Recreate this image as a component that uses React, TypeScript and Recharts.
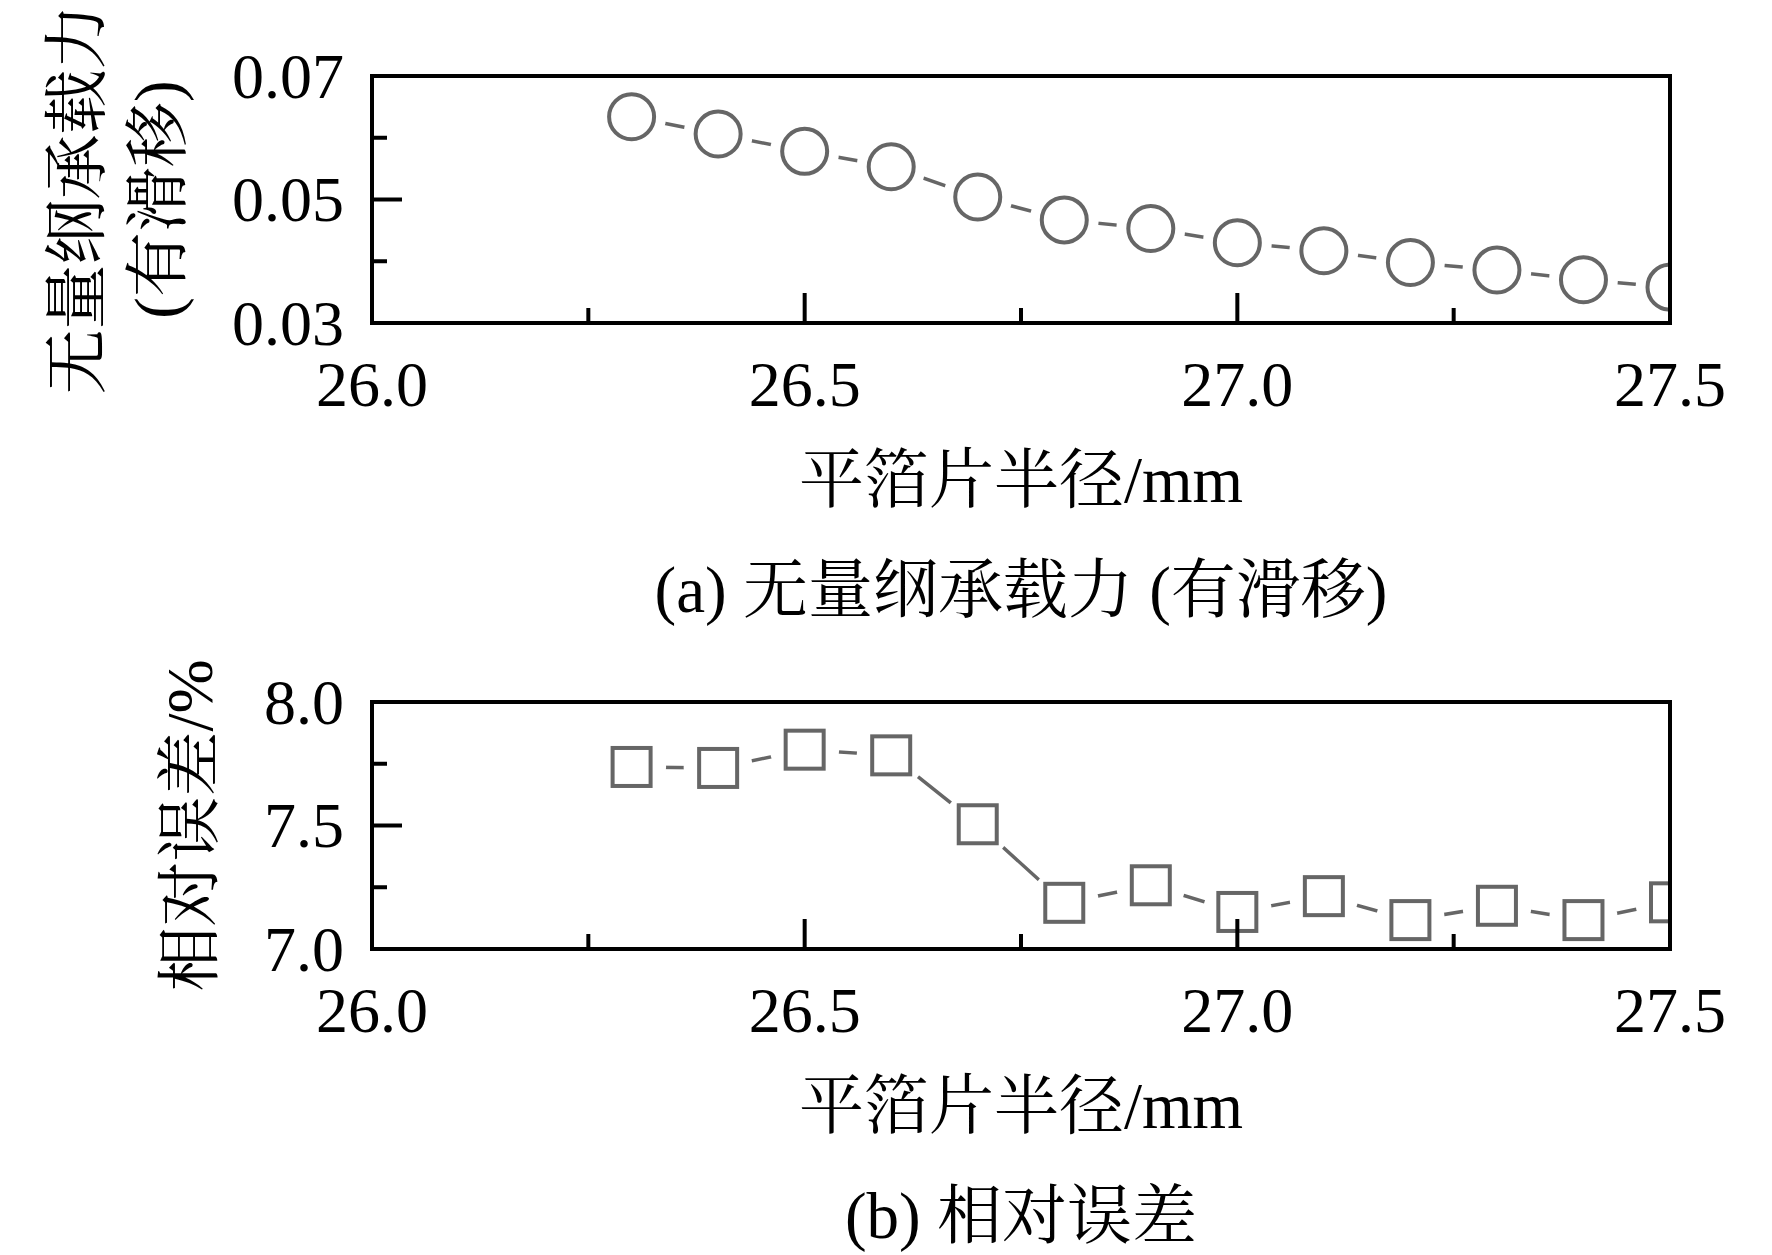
import React from 'react';
import { ComposedChart, Line, Scatter, XAxis, YAxis } from 'recharts';

// ---------- data ----------
const RADIUS = [26.3, 26.4, 26.5, 26.6, 26.7, 26.8, 26.9, 27.0, 27.1, 27.2, 27.3, 27.4, 27.5];
const LOAD = [0.0634, 0.0606, 0.0578, 0.0553, 0.0504, 0.0467, 0.0453, 0.043, 0.0417, 0.0398, 0.0386, 0.037, 0.0358];
const ERROR = [7.737, 7.733, 7.807, 7.784, 7.505, 7.187, 7.258, 7.15, 7.214, 7.117, 7.175, 7.117, 7.189];

const X_DOMAIN: [number, number] = [26.0, 27.5];
const X_TICKS = [26.0, 26.25, 26.5, 26.75, 27.0, 27.25, 27.5];
const X_LABELS = [26.0, 26.5, 27.0, 27.5];

const LOAD_DOMAIN: [number, number] = [0.03, 0.07];
const LOAD_TICKS = [0.03, 0.04, 0.05, 0.06, 0.07];
const LOAD_LABELS = [0.03, 0.05, 0.07];

const ERROR_DOMAIN: [number, number] = [7.0, 8.0];
const ERROR_TICKS = [7.0, 7.25, 7.5, 7.75, 8.0];
const ERROR_LABELS = [7.0, 7.5, 8.0];

const X_TITLE = '平箔片半径/mm';
const CAPTION_A = '(a) 无量纲承载力 (有滑移)';
const CAPTION_B = '(b) 相对误差';
const Y_TITLE_A = ['无量纲承载力', '(有滑移)'];
const Y_TITLE_B = ['相对误差/%'];

// ---------- style ----------
const FONT = "'Liberation Serif', 'Times New Roman', 'Noto Serif CJK SC', 'Noto Sans CJK SC', serif";
const GRAY = '#666666';
const W = 1772;
const H = 628;
const PLOT_LEFT = 372;
const PLOT_RIGHT = 1670;
const PLOT_TOP = 76;
const PLOT_BOTTOM = 323;
const PLOT_CX = (PLOT_LEFT + PLOT_RIGHT) / 2;
const MAJOR = 30;
const MINOR = 15;
const HALO_R = 34.5;
const TICK_FS = 64;
const TITLE_FS = 65;

const near = (a: number, b: number) => Math.abs(a - b) < 1e-9;
const frameLine = { stroke: '#000', strokeWidth: 4, strokeLinecap: 'square' as const };

const XTick = (props: any) => {
  const { x, y, payload } = props;
  const v = payload.value as number;
  const isLabel = X_LABELS.some((l) => near(l, v));
  const isEdge = near(v, X_DOMAIN[0]) || near(v, X_DOMAIN[1]);
  return (
    <g>
      {!isEdge && (
        <line x1={x} x2={x} y1={y} y2={y - (isLabel ? MAJOR : MINOR)} stroke="#000" strokeWidth={4} />
      )}
      {isLabel && (
        <text x={x} y={y + 61} textAnchor="middle" dominantBaseline="central" fontSize={TICK_FS} fontFamily={FONT} fill="#000">
          {v.toFixed(1)}
        </text>
      )}
    </g>
  );
};

const makeYTick = (labels: number[], domain: [number, number], digits: number) => (props: any) => {
  const { x, y, payload } = props;
  const v = payload.value as number;
  const isLabel = labels.some((l) => near(l, v));
  const isEdge = near(v, domain[0]) || near(v, domain[1]);
  return (
    <g>
      {!isEdge && (
        <line x1={x} x2={x + (isLabel ? MAJOR : MINOR)} y1={y} y2={y} stroke="#000" strokeWidth={4} />
      )}
      {isLabel && (
        <text x={x - 28} y={y} textAnchor="end" dominantBaseline="central" fontSize={TICK_FS} fontFamily={FONT} fill="#000">
          {v.toFixed(digits)}
        </text>
      )}
    </g>
  );
};

// white "gap to symbol" halo, kept inside the frame so it never hides the frame lines
const makeHalo = (id: string) => (props: any) => {
  const { cx, cy, index } = props;
  const clipId = `${id}-halo-clip`;
  if (cx == null || cy == null) return <g key={`h${index}`} />;
  return (
    <g key={`h${index}`}>
      {index === 0 && (
        <defs>
          <clipPath id={clipId}>
            <rect x={PLOT_LEFT + 2} y={PLOT_TOP + 2} width={PLOT_RIGHT - PLOT_LEFT - 4} height={PLOT_BOTTOM - PLOT_TOP - 4} />
          </clipPath>
        </defs>
      )}
      <circle cx={cx} cy={cy} r={HALO_R} fill="#ffffff" stroke="none" clipPath={`url(#${clipId})`} />
    </g>
  );
};

const makeMarker = (kind: 'circle' | 'square', id: string) => (props: any) => {
  const { cx, cy, payload } = props;
  if (cx == null || cy == null) return <g />;
  const last = payload && near(payload.r, X_DOMAIN[1]);
  const clipId = `${id}-clip-last`;
  const clip = last ? `url(#${clipId})` : undefined;
  return (
    <g>
      {last && (
        <defs>
          <clipPath id={clipId}>
            <rect x={cx - 80} y={cy - 80} width={80 - 2} height={160} />
          </clipPath>
        </defs>
      )}
      {kind === 'circle' ? (
        <circle cx={cx} cy={cy} r={22.5} fill="#ffffff" stroke={GRAY} strokeWidth={4} clipPath={clip} />
      ) : (
        <rect x={cx - 19} y={cy - 19} width={38} height={38} fill="#ffffff" stroke={GRAY} strokeWidth={4} clipPath={clip} />
      )}
    </g>
  );
};

type PanelProps = {
  id: string;
  values: number[];
  domain: [number, number];
  ticks: number[];
  labels: number[];
  digits: number;
  yTitle: string[];
  yTitleX: number[];
  caption: string;
  marker: 'circle' | 'square';
};

const Panel = ({ id, values, domain, ticks, labels, digits, yTitle, yTitleX, caption, marker }: PanelProps) => {
  const rows = RADIUS.map((r, i) => ({ r, v: values[i] }));
  const yMid = (PLOT_TOP + PLOT_BOTTOM) / 2;
  const extra: any = {};
  return (
    <ComposedChart width={W} height={H} data={rows} margin={{ top: PLOT_TOP - 1, right: W - PLOT_RIGHT - 1, bottom: 0, left: 0 }}>
      <Line
        dataKey="v"
        type="linear"
        stroke={GRAY}
        strokeWidth={3.5}
        dot={makeHalo(id)}
        activeDot={false}
        isAnimationActive={false}
        {...{ zIndex: 100 }}
      />
      <XAxis
        dataKey="r"
        type="number"
        domain={X_DOMAIN}
        ticks={X_TICKS}
        interval={0}
        height={H - PLOT_BOTTOM}
        tickSize={0}
        tickMargin={0}
        tickLine={false}
        axisLine={frameLine}
        tick={XTick}
        {...{ zIndex: 500 }}
        label={() => (
          <g>
            <text x={PLOT_CX} y={480} textAnchor="middle" dominantBaseline="central" fontSize={TITLE_FS} fontFamily={FONT} fill="#000">
              {X_TITLE}
            </text>
            <text x={PLOT_CX} y={590} textAnchor="middle" dominantBaseline="central" fontSize={TITLE_FS} fontFamily={FONT} fill="#000">
              {caption}
            </text>
          </g>
        )}
      />
      <YAxis
        type="number"
        domain={domain}
        ticks={ticks}
        interval={0}
        width={PLOT_LEFT}
        tickSize={0}
        tickMargin={0}
        tickLine={false}
        axisLine={frameLine}
        tick={makeYTick(labels, domain, digits)}
        {...{ zIndex: 500 }}
        label={() => (
          <g>
            {yTitle.map((t, i) => (
              <text
                key={t}
                x={yTitleX[i]}
                y={yMid}
                transform={`rotate(-90 ${yTitleX[i]} ${yMid})`}
                textAnchor="middle"
                dominantBaseline="central"
                fontSize={TITLE_FS}
                fontFamily={FONT}
                fill="#000"
              >
                {t}
              </text>
            ))}
          </g>
        )}
      />
      <XAxis
        xAxisId="top"
        orientation="top"
        type="number"
        domain={X_DOMAIN}
        height={1}
        tick={false}
        tickLine={false}
        axisLine={frameLine}
        {...{ zIndex: 500 }}
      />
      <YAxis
        yAxisId="right"
        orientation="right"
        type="number"
        domain={[0, 1]}
        width={1}
        tick={false}
        tickLine={false}
        axisLine={frameLine}
        {...{ zIndex: 500 }}
      />
      <Scatter dataKey="v" shape={makeMarker(marker, id)} isAnimationActive={false} {...{ zIndex: 600 }} {...extra} />
    </ComposedChart>
  );
};

export default function App() {
  return (
    <div style={{ position: 'absolute', left: 0, top: 0, width: W, height: 1255, background: '#fff' }}>
      <div style={{ position: 'absolute', left: 0, top: 0 }}>
        <Panel
          id="a"
          values={LOAD}
          domain={LOAD_DOMAIN}
          ticks={LOAD_TICKS}
          labels={LOAD_LABELS}
          digits={2}
          yTitle={Y_TITLE_A}
          yTitleX={[77, 158]}
          caption={CAPTION_A}
          marker="circle"
        />
      </div>
      <div style={{ position: 'absolute', left: 0, top: 626 }}>
        <Panel
          id="b"
          values={ERROR}
          domain={ERROR_DOMAIN}
          ticks={ERROR_TICKS}
          labels={ERROR_LABELS}
          digits={1}
          yTitle={Y_TITLE_B}
          yTitleX={[190]}
          caption={CAPTION_B}
          marker="square"
        />
      </div>
    </div>
  );
}
